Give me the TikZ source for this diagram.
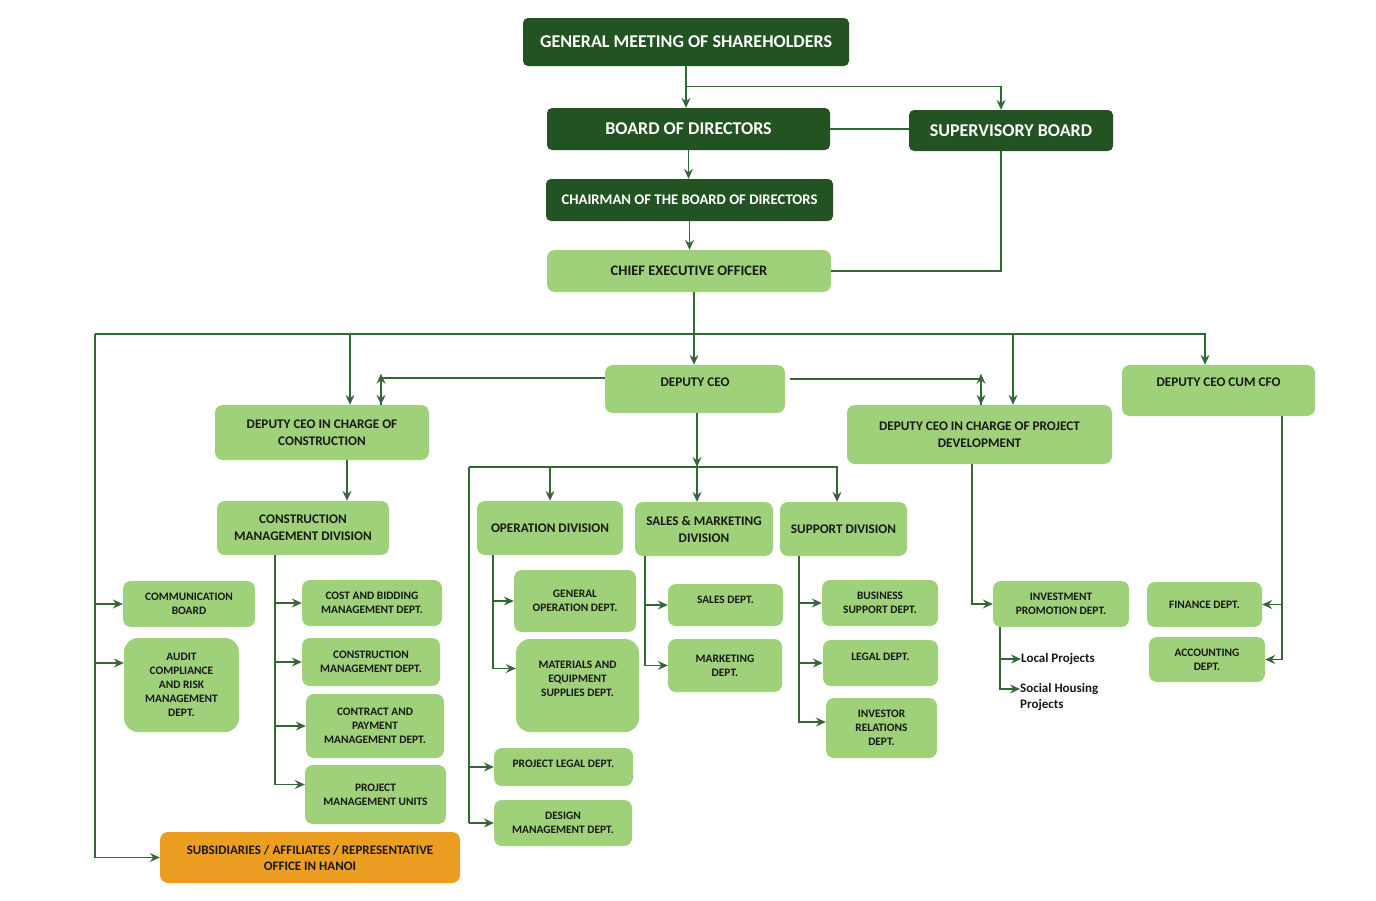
\documentclass[tikz,border=0pt]{standalone}
\usepackage{fontspec}
\setmainfont{Carlito}
\usetikzlibrary{arrows.meta}
\definecolor{dgreen}{HTML}{235323}
\definecolor{lgreen}{HTML}{9FD07A}
\definecolor{orng}{HTML}{EB9E22}
\definecolor{wire}{HTML}{356635}
\tikzstyle{darkbox}=[rectangle, rounded corners=5pt, fill=dgreen, inner sep=0pt, align=center, text=white, font=\bfseries\fontsize{18}{21}\selectfont]
\tikzstyle{greenbox}=[rectangle, rounded corners=8pt, fill=lgreen, inner sep=0pt, align=center, text=black!90, font=\bfseries\fontsize{11.4}{14}\selectfont]
\tikzstyle{midtext}=[font=\bfseries\fontsize{13.2}{17}\selectfont]
\tikzstyle{note}=[inner sep=0pt, align=left, text=black!90, font=\bfseries\fontsize{13}{16}\selectfont]
\newcommand{\dbox}{\node[darkbox]}
\newcommand{\gbox}{\node[greenbox]}

\begin{document}
\begin{tikzpicture}[x=1pt, y=-1pt,
    link/.style={draw=wire, line width=1.1pt},
    arr/.style={link, -{Stealth[length=10pt, width=9pt, inset=3.5pt]}},
    dbl/.style={link, {Stealth[length=10pt, width=9pt, inset=3.5pt]}-{Stealth[length=10pt, width=9pt, inset=3.5pt]}},
    sz/.style 2 args={minimum width=#1pt, minimum height=#2pt},
    lift/.style={text depth=#1pt}
]
\useasboundingbox (0,0) rectangle (1376,900);

% governance
\dbox[sz={326}{48}] (gms) at (686,42) {GENERAL MEETING OF SHAREHOLDERS};
\dbox[sz={283}{42}] (bod) at (688.5,129) {BOARD OF DIRECTORS};
\dbox[sz={204}{41}] (sb) at (1011,130.5) {SUPERVISORY BOARD};
\dbox[sz={287}{42}, font=\bfseries\fontsize{14.7}{17}\selectfont] (chair) at (689.5,200) {CHAIRMAN OF THE BOARD OF DIRECTORS};
\gbox[sz={284}{42}, font=\bfseries\fontsize{14.5}{17}\selectfont] (ceo) at (689,271) {CHIEF EXECUTIVE OFFICER};

% deputies
\gbox[sz={180}{48}, midtext, lift=14] (dceo) at (695,389) {DEPUTY CEO};
\gbox[sz={214}{55}, midtext] (dcon) at (322,432.5) {DEPUTY CEO IN CHARGE OF\\CONSTRUCTION};
\gbox[sz={265}{59}, midtext] (dpro) at (979.5,434.5) {DEPUTY CEO IN CHARGE OF PROJECT\\DEVELOPMENT};
\gbox[sz={193}{51}, midtext, lift=17] (cfo) at (1218.5,390.5) {DEPUTY CEO CUM CFO};

% divisions
\gbox[sz={172}{54}, midtext] (cmd) at (303,528) {CONSTRUCTION\\MANAGEMENT DIVISION};
\gbox[sz={146}{54}, midtext] (opd) at (550,528) {OPERATION DIVISION};
\gbox[sz={138}{54}, midtext] (smd) at (704,529) {SALES \& MARKETING\\DIVISION};
\gbox[sz={127}{54}, midtext] (supp) at (843.5,529) {SUPPORT DIVISION};

% departments
\gbox[sz={132}{46}] (comm) at (189,604) {COMMUNICATION\\BOARD};
\gbox[sz={115}{94}, rounded corners=14pt] (audit) at (181.5,685) {AUDIT\\COMPLIANCE\\AND RISK\\MANAGEMENT\\DEPT.};
\gbox[sz={140}{46}] (cost) at (372,603) {COST AND BIDDING\\MANAGEMENT DEPT.};
\gbox[sz={138}{48}] (cmdept) at (371,662) {CONSTRUCTION\\MANAGEMENT DEPT.};
\gbox[sz={138}{64}] (contract) at (375,726) {CONTRACT AND\\PAYMENT\\MANAGEMENT DEPT.};
\gbox[sz={141}{59}] (pmu) at (375.5,794.5) {PROJECT\\MANAGEMENT UNITS};
\node[greenbox, fill=orng, sz={300}{51}, font=\bfseries\fontsize{13}{16}\selectfont] (subs) at (310,857.5) {SUBSIDIARIES / AFFILIATES / REPRESENTATIVE\\OFFICE IN HANOI};

\gbox[sz={122}{62}] (genop) at (575,601) {GENERAL\\OPERATION DEPT.};
\gbox[sz={123}{93}, rounded corners=14pt, lift=13] (mat) at (577.5,685.5) {MATERIALS AND\\EQUIPMENT\\SUPPLIES DEPT.};
\gbox[sz={139}{38}, lift=6] (plegal) at (563.5,767) {PROJECT LEGAL DEPT.};
\gbox[sz={138}{46}] (design) at (563,823) {DESIGN\\MANAGEMENT DEPT.};

\gbox[sz={115}{42}, lift=10] (salesd) at (725.5,605) {SALES DEPT.};
\gbox[sz={114}{53}] (mkt) at (725,665.5) {MARKETING\\DEPT.};

\gbox[sz={116}{46}] (busd) at (880,603) {BUSINESS\\SUPPORT DEPT.};
\gbox[sz={115}{46}, lift=12] (legal) at (880.5,663) {LEGAL DEPT.};
\gbox[sz={111}{60}] (invr) at (881.5,728) {INVESTOR\\RELATIONS\\DEPT.};

\gbox[sz={136}{46}] (invp) at (1061,604) {INVESTMENT\\PROMOTION DEPT.};
\node[note, anchor=west] (local) at (1021,659) {Local Projects};
\node[note, anchor=west] (social) at (1020,697) {Social Housing\\Projects};

\gbox[sz={115}{45}] (fin) at (1204.5,604.5) {FINANCE DEPT.};
\gbox[sz={116}{45}] (acct) at (1207,659.5) {ACCOUNTING\\DEPT.};

% top links
\draw[arr] (gms.south) -- (gms.south |- bod.north);
\coordinate (gmsfork) at ([yshift=-20pt]gms.south);
\coordinate (sbin) at ([xshift=-10pt]sb.north);
\draw[arr] (gmsfork) -| (sbin);
\draw[link] (bod.east) -- (bod.east -| sb.west);
\draw[arr] (bod.south) -- (bod.south |- chair.north);
\draw[arr] (chair.south) -- (chair.south |- ceo.north);
\coordinate (sbout) at ([xshift=-10pt]sb.south);
\draw[link] (sbout) |- (ceo.east);

% ceo bus
\coordinate (ceoout) at ([xshift=5pt]ceo.south);
\draw[arr] (ceoout) -- (ceoout |- dceo.north);
\coordinate (busL) at (95,334);
\coordinate (cfoin) at ([xshift=-13.5pt]cfo.north);
\draw[arr] (busL) -| (cfoin);
\coordinate (dconin) at ([xshift=28pt]dcon.north);
\draw[arr] (busL -| dconin) -- (dconin);
\coordinate (dproin) at ([xshift=33.5pt]dpro.north);
\draw[arr] (busL -| dproin) -- (dproin);
\draw[link] (busL) -- (busL |- subs);
\draw[arr] (busL |- comm) -- (comm.west);
\coordinate (auditin) at ([yshift=22pt]audit.west);
\draw[arr] (busL |- auditin) -- (auditin);
\draw[arr] (busL |- subs) -- (subs.west);

% deputy ceo links
\coordinate (dconlink) at ([xshift=59pt]dcon.north);
\draw[link] ([yshift=11pt]dceo.west) -| (dconlink);
\draw[dbl] (dconlink) -- ++(0,-31);
\coordinate (dprolink) at ([xshift=1.5pt]dpro.north);
\draw[link] ([xshift=5pt,yshift=10pt]dceo.east) -| (dprolink);
\draw[dbl] (dprolink) -- ++(0,-31);

\coordinate (divL) at (469,467);
\coordinate (smdin) at ([xshift=-7pt]smd.north);
\draw[arr] (dceo.south -| smdin) -- (divL -| smdin);
\draw[arr] (divL -| smdin) -- (smdin);
\coordinate (suppin) at ([xshift=-6.5pt]supp.north);
\draw[arr] (divL) -| (suppin);
\draw[arr] (divL -| opd.north) -- (opd.north);
\draw[link] (divL) -- (divL |- design);
\draw[arr] (divL |- plegal) -- (plegal.west);
\draw[arr] (divL |- design) -- (design.west);

% construction
\coordinate (dconout) at ([xshift=25pt]dcon.south);
\draw[arr] (dconout) -- (dconout |- cmd.north);
\coordinate (cmdout) at ([xshift=-28pt]cmd.south);
\coordinate (pmuin) at ([yshift=10pt]pmu.west);
\draw[arr] (cmdout) |- (pmuin);
\foreach \dept in {cost, cmdept, contract}
    \draw[arr] (cmdout |- \dept) -- (\dept.west);

% operation, sales, support
\coordinate (opdout) at ([xshift=-57pt]opd.south);
\coordinate (matin) at ([yshift=17pt]mat.west);
\draw[arr] (opdout) |- (matin);
\draw[arr] (opdout |- genop) -- (genop.west);
\coordinate (smdout) at ([xshift=-59pt]smd.south);
\draw[arr] (smdout) |- (mkt.west);
\draw[arr] (smdout |- salesd) -- (salesd.west);
\coordinate (suppout) at ([xshift=-44.5pt]supp.south);
\coordinate (invrin) at ([yshift=6pt]invr.west);
\draw[arr] (suppout) |- (invrin);
\foreach \dept in {busd, legal}
    \draw[arr] (suppout |- \dept) -- (\dept.west);

% project development and cfo
\coordinate (dproout) at ([xshift=-7.5pt]dpro.south);
\draw[arr] (dproout) |- (invp.west);
\coordinate (invpout) at ([xshift=-61pt]invp.south);
\coordinate (socialin) at ([yshift=8pt]social.west);
\draw[arr] (invpout) |- (socialin);
\draw[arr] (invpout |- local) -- (local.west);
\coordinate (cfoout) at ([xshift=63.5pt]cfo.south);
\draw[arr] (cfoout) |- (acct.east);
\draw[arr] (cfoout |- fin) -- (fin.east);
\end{tikzpicture}
\end{document}
